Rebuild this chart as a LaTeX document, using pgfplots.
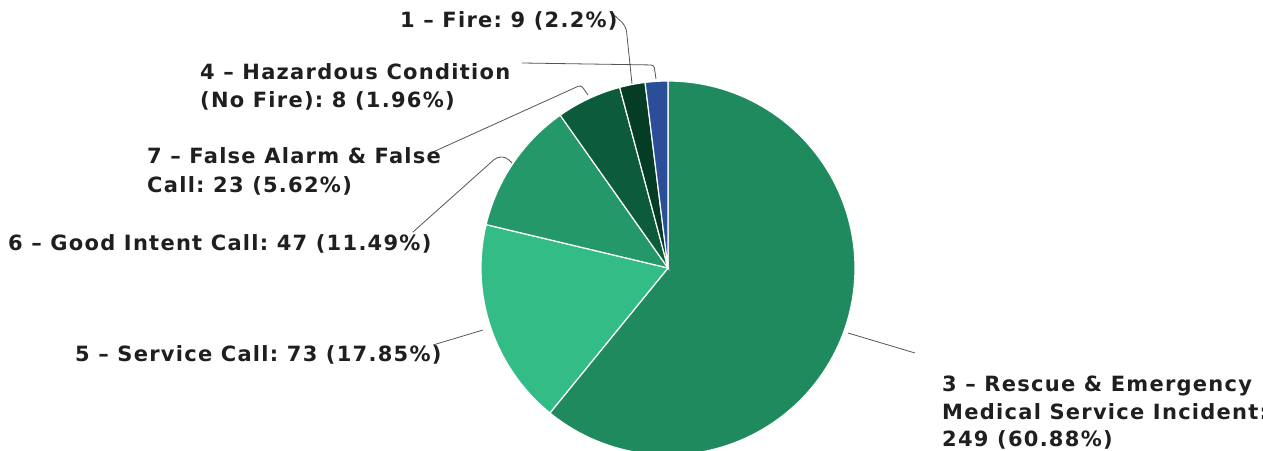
\documentclass[border=0pt]{standalone}
\usepackage{pgfplots}
\pgfplotsset{compat=1.18}
\usepackage{fontspec}
\setmainfont{DejaVu Sans}
\newfontfamily\lblfont{DejaVu Sans}[LetterSpace=6]
\definecolor{cRescue}{HTML}{1E8A5E}
\definecolor{cService}{HTML}{33BC86}
\definecolor{cGood}{HTML}{249868}
\definecolor{cFalse}{HTML}{0C5C3B}
\definecolor{cFire}{HTML}{053C26}
\definecolor{cHaz}{HTML}{2A4F98}
\definecolor{cLine}{HTML}{555555}
% values (count of incidents)
\def\vRescue{249}
\def\vService{73}
\def\vGood{47}
\def\vFalse{23}
\def\vFire{9}
\def\vHaz{8}
\pgfmathsetmacro\total{\vRescue+\vService+\vGood+\vFalse+\vFire+\vHaz}
\pgfmathsetmacro\aA{90}
\pgfmathsetmacro\aB{\aA-\vRescue/\total*360}
\pgfmathsetmacro\aC{\aB-\vService/\total*360}
\pgfmathsetmacro\aD{\aC-\vGood/\total*360}
\pgfmathsetmacro\aE{\aD-\vFalse/\total*360}
\pgfmathsetmacro\aF{\aE-\vFire/\total*360}
\pgfmathsetmacro\aG{\aF-\vHaz/\total*360}
\def\cx{668}
\def\cy{182}
\def\rr{187}
\frenchspacing
\tikzset{lbl/.style={anchor=base west,inner sep=0pt,font=\lblfont\bfseries\fontsize{21}{24}\selectfont,text=black!88}}
\begin{document}
\begin{tikzpicture}
\begin{axis}[width=1263pt,height=450pt,scale only axis,
  xmin=0,xmax=1263,ymin=0,ymax=450,axis lines=none,clip=true]
\addplot[draw=white,line width=1.2pt,fill=cRescue,domain=\aB:\aA,samples=150,variable=\t]
  ({\cx+\rr*cos(\t)},{\cy+\rr*sin(\t)}) -- (axis cs:\cx,\cy) -- cycle;
\addplot[draw=white,line width=1.2pt,fill=cService,domain=\aC:\aB,samples=60,variable=\t]
  ({\cx+\rr*cos(\t)},{\cy+\rr*sin(\t)}) -- (axis cs:\cx,\cy) -- cycle;
\addplot[draw=white,line width=1.2pt,fill=cGood,domain=\aD:\aC,samples=40,variable=\t]
  ({\cx+\rr*cos(\t)},{\cy+\rr*sin(\t)}) -- (axis cs:\cx,\cy) -- cycle;
\addplot[draw=white,line width=1.2pt,fill=cFalse,domain=\aE:\aD,samples=20,variable=\t]
  ({\cx+\rr*cos(\t)},{\cy+\rr*sin(\t)}) -- (axis cs:\cx,\cy) -- cycle;
\addplot[draw=white,line width=1.2pt,fill=cFire,domain=\aF:\aE,samples=10,variable=\t]
  ({\cx+\rr*cos(\t)},{\cy+\rr*sin(\t)}) -- (axis cs:\cx,\cy) -- cycle;
\addplot[draw=white,line width=1.2pt,fill=cHaz,domain=\aG:\aF,samples=10,variable=\t]
  ({\cx+\rr*cos(\t)},{\cy+\rr*sin(\t)}) -- (axis cs:\cx,\cy) -- cycle;
% leader lines
\draw[cLine,line width=0.8pt,rounded corners=6pt] (axis cs:613,436) -- (axis cs:626,424) -- (axis cs:632,366);
\draw[cLine,line width=0.8pt,rounded corners=3pt] (axis cs:522,387) -- (axis cs:654,385) -- (axis cs:656,371);
\draw[cLine,line width=0.8pt,rounded corners=3pt] (axis cs:433,298) -- (axis cs:581,365) -- (axis cs:588,355);
\draw[cLine,line width=0.8pt,rounded corners=4pt] (axis cs:413,218) -- (axis cs:497,293) -- (axis cs:506,293) -- (axis cs:512,287);
\draw[cLine,line width=0.8pt] (axis cs:433,105) -- (axis cs:483,120);
\draw[cLine,line width=0.8pt] (axis cs:848,117) -- (axis cs:915,97);
% labels
\node[lbl] at (axis cs:400,422) {1 – Fire: 9 (2.2\%)};
\node[lbl] at (axis cs:200,370) {4 – Hazardous Condition};
\node[lbl] at (axis cs:200,342) {(No Fire): 8 (1.96\%)};
\node[lbl] at (axis cs:147,286) {7 – False Alarm \& False};
\node[lbl] at (axis cs:147,257) {Call: 23 (5.62\%)};
\node[lbl] at (axis cs:8,199) {6 – Good Intent Call: 47 (11.49\%)};
\node[lbl] at (axis cs:75,88) {5 – Service Call: 73 (17.85\%)};
\node[lbl] at (axis cs:942,59) {3 – Rescue \& Emergency};
\node[lbl] at (axis cs:942,31) {Medical Service Incident:};
\node[lbl] at (axis cs:942,4) {249 (60.88\%)};
\end{axis}
\pgfresetboundingbox
\path[use as bounding box] (current axis.south west) rectangle (current axis.north east);
\end{tikzpicture}
\end{document}
